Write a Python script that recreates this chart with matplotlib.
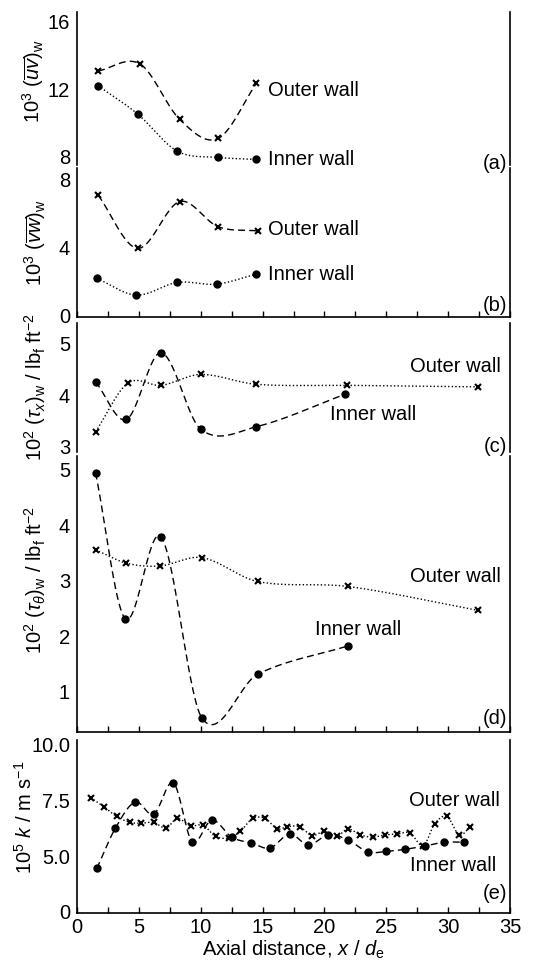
#!/usr/bin/env python3
"""Wall shear stress and mass transfer coefficient along the annulus, inner vs outer wall."""
import numpy as np
import matplotlib
matplotlib.use("Agg")
import matplotlib.pyplot as plt

plt.rcParams['font.family'] = ['Liberation Sans', 'DejaVu Sans']
plt.rcParams['mathtext.fontset'] = 'custom'
plt.rcParams['mathtext.rm'] = 'Liberation Sans'
plt.rcParams['mathtext.it'] = 'Liberation Sans:italic'
plt.rcParams['mathtext.bf'] = 'Liberation Sans:bold'

# (a) 10^3 (uv)_w
xa_out = [1.7, 5.1, 8.3, 11.4, 14.5]
ya_out = [13.08, 13.49, 10.21, 9.08, 12.34]
xa_in = [1.7, 4.9, 8.1, 11.4, 14.5]
ya_in = [12.21, 10.53, 8.33, 7.96, 7.84]

# (b) 10^3 (vw)_w
xb_out = [1.7, 4.9, 8.3, 11.4, 14.6]
yb_out = [7.11, 3.95, 6.72, 5.23, 4.98]
xb_in = [1.6, 4.8, 8.1, 11.3, 14.5]
yb_in = [2.17, 1.18, 1.93, 1.83, 2.43]

# (c) 10^2 (tau_x)_w
xc_out = [1.5, 4.1, 6.8, 10.0, 14.5, 21.8, 32.4]
yc_out = [3.29, 4.23, 4.19, 4.40, 4.21, 4.19, 4.16]
xc_in = [1.5, 4.0, 6.8, 10.0, 14.5, 21.7]
yc_in = [4.26, 3.53, 4.82, 3.34, 3.39, 4.02]

# (d) 10^2 (tau_theta)_w
xd_out = [1.5, 4.0, 6.7, 10.1, 14.6, 21.9, 32.4]
yd_out = [3.56, 3.32, 3.27, 3.42, 2.99, 2.90, 2.47]
xd_in = [1.5, 3.9, 6.8, 10.1, 14.6, 21.9]
yd_in = [4.95, 2.32, 3.79, 0.53, 1.32, 1.83]

# (e) 10^5 k
xe_out = [1.1, 2.2, 3.2, 4.3, 5.2, 6.2, 7.2, 8.1, 9.2, 10.2, 11.2, 12.3,
          13.2, 14.2, 15.2, 16.2, 17.0, 18.0, 19.0, 20.0, 21.0, 21.9, 22.9,
          23.9, 24.9, 25.9, 26.9, 28.0, 28.9, 29.9, 30.9, 31.8]
ye_out = [7.63, 7.21, 6.78, 6.51, 6.48, 6.51, 6.26, 6.69, 6.36, 6.39, 5.88, 5.82,
          6.11, 6.69, 6.69, 6.22, 6.32, 6.32, 5.92, 6.11, 5.89, 6.22, 5.95,
          5.85, 5.95, 5.99, 6.04, 5.47, 6.44, 6.78, 5.95, 6.32]
xe_in = [1.6, 3.1, 4.7, 6.2, 7.8, 9.3, 10.9, 12.5, 14.1, 15.6, 17.2, 18.7,
         20.3, 21.9, 23.5, 25.0, 26.5, 28.1, 29.7, 31.3]
ye_in = [4.44, 6.25, 7.43, 6.88, 8.29, 5.65, 6.62, 5.85, 5.58, 5.36, 5.99, 5.50,
         5.95, 5.73, 5.18, 5.21, 5.30, 5.45, 5.62, 5.62]
# lower part of the k axis is broken: the bottom tick stands for zero
e_ticks = [2.5, 5.0, 7.5, 10.0]
e_ticklabels = ['0', '5.0', '7.5', '10.0']


def smooth(x, y, n=400):
    """Cubic Hermite curve through the points with Catmull-Rom slopes."""
    x = np.asarray(x, float)
    y = np.asarray(y, float)
    m = len(x)
    d = np.empty(m)
    d[1:-1] = (y[2:] - y[:-2]) / (x[2:] - x[:-2])
    d[0] = (y[1] - y[0]) / (x[1] - x[0])
    d[-1] = (y[-1] - y[-2]) / (x[-1] - x[-2])
    xs = np.linspace(x[0], x[-1], n)
    k = np.clip(np.searchsorted(x, xs) - 1, 0, m - 2)
    h = x[k + 1] - x[k]
    t = (xs - x[k]) / h
    h00 = 2 * t**3 - 3 * t**2 + 1
    h10 = t**3 - 2 * t**2 + t
    h01 = -2 * t**3 + 3 * t**2
    h11 = t**3 - t**2
    ys = h00 * y[k] + h10 * h * d[k] + h01 * y[k + 1] + h11 * h * d[k + 1]
    return xs, ys


DASH = (0, (5, 3))
DOT = (0, (1, 1.6))
FS = 14.5

W, H = 555, 965
fig = plt.figure(figsize=(W / 100, H / 100), dpi=100)
left, right = 77, 510


def make_ax(top_px, bot_px):
    ax = fig.add_axes([left / W, 1 - bot_px / H, (right - left) / W, (bot_px - top_px) / H])
    ax.patch.set_visible(False)
    return ax


ax_a = make_ax(11.7, 165)
ax_b = make_ax(168.3, 316.7)
ax_c = make_ax(323.3, 452)
ax_d = make_ax(456, 731.7)
ax_e = make_ax(740, 912.7)
axes = [ax_a, ax_b, ax_c, ax_d, ax_e]

for ax in axes:
    ax.set_xlim(0, 35)
    ax.spines['top'].set_visible(False)
    for s in ax.spines.values():
        s.set_linewidth(1.2)
    ax.tick_params(axis='y', length=0, pad=5, labelsize=FS)
    ax.set_xticks(np.arange(0, 36, 5))
    ax.set_xticks(np.arange(2.5, 35, 5), minor=True)
    ax.tick_params(axis='x', which='both', direction='in', length=4, width=1.0,
                   labelsize=FS, pad=4)
    ax.tick_params(axis='x', labelbottom=False)

for ax in (ax_a, ax_c):
    ax.spines['bottom'].set_visible(False)
    ax.tick_params(axis='x', which='both', bottom=False)
ax_e.tick_params(axis='x', labelbottom=True)


def draw(ax, x, y, ls, marker):
    xs, ys = smooth(x, y)
    ax.plot(xs, ys, color='black', linestyle=ls, linewidth=1.0)
    if marker == 'o':
        ax.plot(x, y, 'o', color='black', ms=5, mec='black')
    else:
        ax.plot(x, y, 'x', color='black', ms=4.5, mew=1.5)


# (a)
draw(ax_a, xa_out, ya_out, DASH, 'x')
draw(ax_a, xa_in, ya_in, DOT, 'o')
ax_a.set_ylim(7.51, 16.59)
ax_a.set_yticks([8, 12, 16])
ax_a.text(15.4, 11.95, 'Outer wall', fontsize=FS, va='center')
ax_a.text(15.4, 7.84, 'Inner wall', fontsize=FS, va='center')
ax_a.text(34.8, 7.6, '(a)', fontsize=FS, va='center', ha='right')
ax_a.set_ylabel(r'$10^3\ (\overline{uv})_{\rm w}$', fontsize=FS)
ax_a.yaxis.set_label_coords(-0.072, 0.55)

# (b)
draw(ax_b, xb_out, yb_out, DASH, 'x')
draw(ax_b, xb_in, yb_in, DOT, 'o')
ax_b.set_ylim(-0.1, 8.69)
ax_b.set_yticks([0, 4, 8])
ax_b.text(15.4, 5.04, 'Outer wall', fontsize=FS, va='center')
ax_b.text(15.4, 2.37, 'Inner wall', fontsize=FS, va='center')
ax_b.text(34.8, 0.59, '(b)', fontsize=FS, va='center', ha='right')
ax_b.set_ylabel(r'$10^3\ (\overline{vw})_{\rm w}$', fontsize=FS)
ax_b.yaxis.set_label_coords(-0.068, 0.5)

# (c)
draw(ax_c, xc_out, yc_out, DOT, 'x')
draw(ax_c, xc_in, yc_in, DASH, 'o')
ax_c.set_ylim(2.9, 5.39)
ax_c.set_yticks([3, 4, 5])
ax_c.text(26.9, 4.55, 'Outer wall', fontsize=FS, va='center')
ax_c.text(20.45, 3.63, 'Inner wall', fontsize=FS, va='center')
ax_c.text(34.8, 3.0, '(c)', fontsize=FS, va='center', ha='right')
ax_c.set_ylabel(r'$10^2\ (\tau_x)_{\rm w}$ / lb$_{\rm f}$ ft$^{-2}$', fontsize=FS)
ax_c.yaxis.set_label_coords(-0.066, 0.5)

# (d)
draw(ax_d, xd_out, yd_out, DOT, 'x')
draw(ax_d, xd_in, yd_in, DASH, 'o')
ax_d.set_ylim(0.285, 5.25)
ax_d.set_yticks([1, 2, 3, 4, 5])
ax_d.text(26.9, 3.08, 'Outer wall', fontsize=FS, va='center')
ax_d.text(19.25, 2.12, 'Inner wall', fontsize=FS, va='center')
ax_d.text(34.8, 0.52, '(d)', fontsize=FS, va='center', ha='right')
ax_d.set_ylabel(r'$10^2\ (\tau_\theta)_{\rm w}$ / lb$_{\rm f}$ ft$^{-2}$', fontsize=FS)
ax_d.yaxis.set_label_coords(-0.066, 0.55)

# (e)
draw(ax_e, xe_out, ye_out, DOT, 'x')
draw(ax_e, xe_in, ye_in, DASH, 'o')
ax_e.set_ylim(2.45, 10.22)
ax_e.set_yticks(e_ticks)
ax_e.set_yticklabels(e_ticklabels)
ax_e.text(26.8, 7.48, 'Outer wall', fontsize=FS, va='center')
ax_e.text(26.9, 4.58, 'Inner wall', fontsize=FS, va='center')
ax_e.text(34.8, 3.3, '(e)', fontsize=FS, va='center', ha='right')
ax_e.set_ylabel(r'$10^5\ k$ / m s$^{-1}$', fontsize=FS)
ax_e.yaxis.set_label_coords(-0.095, 0.55)
ax_e.set_xlabel(r'Axial distance, $x$ / $d_{\rm e}$', fontsize=FS, labelpad=1)

fig.savefig('out.png', dpi=100)
